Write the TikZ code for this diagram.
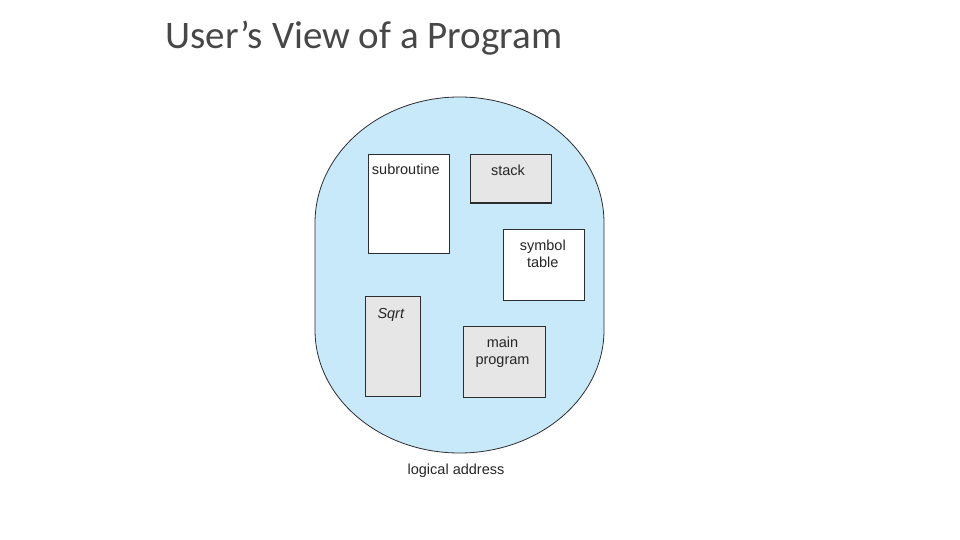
\documentclass[tikz,border=0pt]{standalone}
\usepackage{fontspec}
\setmainfont{Carlito}
\newfontfamily\figfont{Liberation Sans}
\usetikzlibrary{calc}

\definecolor{segblue}{RGB}{200,233,250}
\definecolor{seggray}{RGB}{230,230,230}
\definecolor{segline}{RGB}{45,45,50}

\begin{document}
\begin{tikzpicture}[x=1pt, y=-1pt,
  box/.style={draw=segline, line width=0.9pt, rectangle, inner sep=0pt},
  lbl/.style={font=\figfont\fontsize{14.5}{16.5}\selectfont, text=black!85, align=center}]

% page frame, 960 x 540 like the slide
\useasboundingbox (0,0) rectangle (960,540);

% title of the slide
\node[anchor=base west, font=\fontsize{39}{44}\selectfont, text=black!72] (title) at (162,49) {User’s View of a Program};

% the blob: top half ellipse, straight sides, bottom half ellipse
% centre x 459.5, half width 144.5
\filldraw[fill=segblue, draw=segline, line width=0.8pt]
  (315,223) .. controls (315,153.4) and (379.7,97) .. (459.5,97)
  .. controls (539.3,97) and (604,153.4) .. (604,223)
  -- (604,330)
  .. controls (604,397.9) and (539.3,453) .. (459.5,453)
  .. controls (379.7,453) and (315,397.9) .. (315,330) -- cycle;

% ---- segments ----
% subroutine (white)
\node[box, fill=white, minimum width=81, minimum height=99,
  label={[lbl, anchor=north, yshift=-7pt, xshift=-3pt]north:subroutine}] (sub) at (408.8,203.8) {};
% stack (gray)
\node[box, fill=seggray, minimum width=81.4, minimum height=48.4,
  label={[lbl, anchor=north, yshift=-8pt, xshift=-3pt]north:stack}] (stk) at (511,178.5) {};
\draw[segline, line width=1.6pt] (stk.south west) -- (stk.south east);
% symbol table (white)
\node[box, fill=white, minimum width=81, minimum height=71,
  label={[lbl, anchor=north, yshift=-8pt, xshift=-1pt]north:symbol\\table}] (sym) at (543.8,264.5) {};
% Sqrt (gray)
\node[box, fill=seggray, minimum width=55, minimum height=99.3,
  label={[lbl, anchor=north, yshift=-9pt, xshift=-2pt, font=\figfont\itshape\fontsize{14.5}{16.5}\selectfont]north:Sqrt}] (sqrt) at (392.8,346.4) {};
% main program (gray)
\node[box, fill=seggray, minimum width=82.4, minimum height=71.7,
  label={[lbl, anchor=north, yshift=-8pt, xshift=-2pt]north:main\\program}] (main) at (504.5,361.9) {};

% caption under the blob
\node[lbl] (cap) at (456,471) {logical address};

\end{tikzpicture}
\end{document}
